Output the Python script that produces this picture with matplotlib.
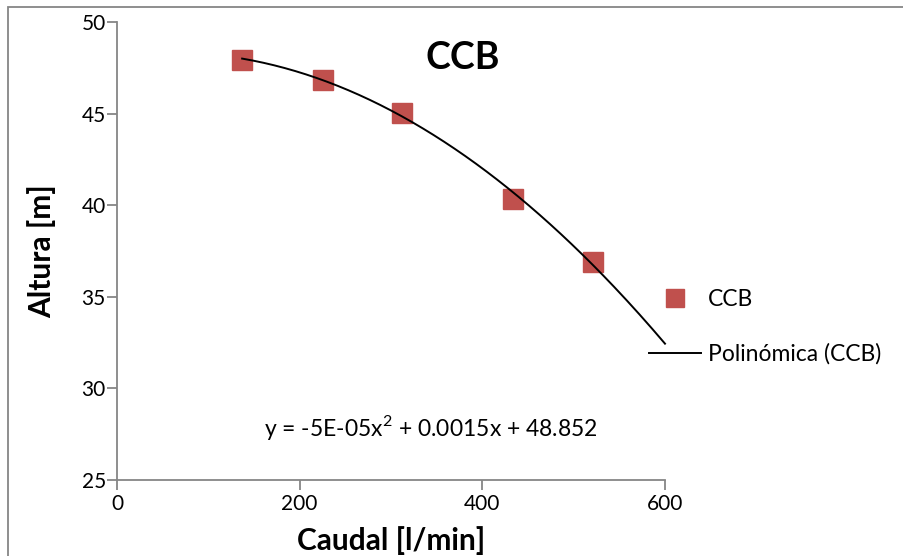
import matplotlib
matplotlib.use("Agg")
import matplotlib.pyplot as plt
import numpy as np
from matplotlib.patches import Rectangle
from matplotlib.lines import Line2D

caudal = [137, 226, 312, 434, 521]
altura = [47.93, 46.86, 45.06, 40.34, 36.9]
x_ticks = [0, 200, 400, 600]
y_ticks = [25, 30, 35, 40, 45, 50]
equation = "y = -5E-05x$^{2}$ + 0.0015x + 48.852"

plt.rcParams['font.family'] = ['Lato', 'DejaVu Sans']
plt.rcParams['mathtext.fontset'] = 'custom'
plt.rcParams['mathtext.rm'] = 'Lato'

W, H = 904, 556
fig = plt.figure(figsize=(W/100, H/100), dpi=100)
fig.patches.append(Rectangle((8/W, -0.2), 1.2, 1.2 - 7/H, transform=fig.transFigure,
                             fill=False, edgecolor='#868686', linewidth=1.3))

ax = fig.add_axes([117/W, (H-480)/H, (665-117)/W, (480-22)/H])
ax.set_xlim(0, 600)
ax.set_ylim(25, 50)

coef = np.polyfit(caudal, altura, 2)
xs = np.linspace(min(caudal), 600, 200)
ax.plot(xs, np.polyval(coef, xs), color='black', linewidth=1.4, zorder=3, clip_on=False)
ax.plot(caudal, altura, linestyle='none', marker='s', markersize=14.5,
        color='#C0504D', zorder=2)

for s in ['top', 'right']:
    ax.spines[s].set_visible(False)
for s in ['left', 'bottom']:
    ax.spines[s].set_color('#868686')
    ax.spines[s].set_linewidth(1.3)
ax.set_xticks(x_ticks)
ax.set_yticks(y_ticks)
ax.tick_params(axis='both', colors='#868686', length=7, width=1.3, labelsize=15,
               labelcolor='black')
ax.tick_params(axis='x', pad=3)
ax.tick_params(axis='y', pad=1)

ax.set_xlabel("Caudal [l/min]", fontsize=21.5, fontweight='bold', labelpad=9)
ax.set_ylabel("Altura [m]", fontsize=21.5, fontweight='bold', labelpad=18)

fig.text(463/W, 1 - 58/H, "CCB", fontsize=27, fontweight='bold', ha='center', va='center')
fig.text(431/W, 1 - 428/H, equation, fontsize=16.5, ha='center', va='center')

handles = [Line2D([], [], linestyle='none', marker='s', markersize=13, color='#C0504D'),
           Line2D([], [], color='black', linewidth=1.4)]
fig.legend(handles, ["CCB", "Polinómica (CCB)"], loc='center left',
           bbox_to_anchor=(628/W, 1 - 327/H), frameon=False, fontsize=16.5,
           handlelength=2.3, handletextpad=0.3, labelspacing=1.45)

fig.savefig("out.png", dpi=100)
